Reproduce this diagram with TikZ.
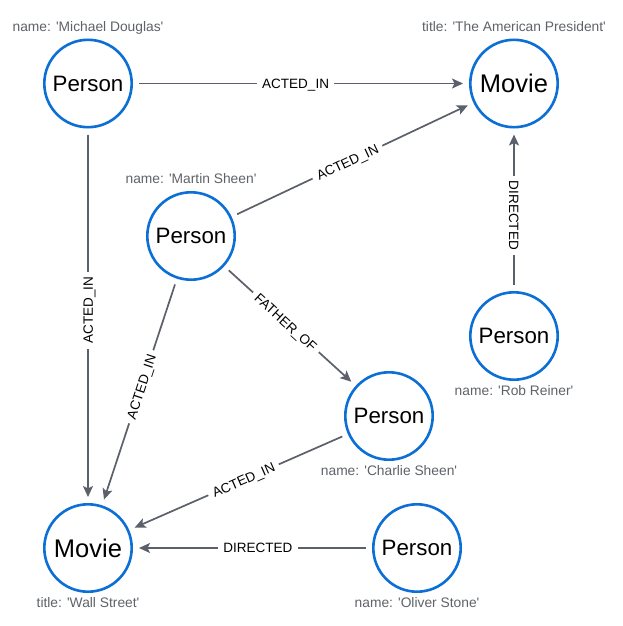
\documentclass[tikz,border=0pt]{standalone}
\usepackage{fontspec}
\setmainfont{Liberation Sans}
\usetikzlibrary{arrows.meta}
\definecolor{nodeblue}{HTML}{0B6FD6}
\definecolor{edgegray}{HTML}{5B606B}
\definecolor{proptext}{HTML}{5F6368}
\newcommand{\q}{\textquotesingle}
\begin{document}
\begin{tikzpicture}[x=1pt,y=-1pt,
  pnode/.style={circle, draw=nodeblue, line width=2.6pt, fill=white, minimum size=87.4pt, inner sep=0pt, font=\fontsize{22.3}{26}\selectfont},
  mnode/.style={pnode, font=\fontsize{25.5}{30}\selectfont},
  prop/.style={text=proptext, font=\fontsize{13.8}{16}\selectfont, anchor=base, inner sep=0pt},
  edge/.style={draw=edgegray, line width=1.7pt, shorten <=6pt, shorten >=6pt, -{Stealth[length=11pt,width=10pt,inset=2.5pt]}},
  elabel/.style={fill=white, text=black, font=\fontsize{13.5}{16}\selectfont, text height=9.7pt, text depth=0pt, inner xsep=5pt, inner ysep=2pt, anchor=center}]
\useasboundingbox[fill=white] (0,0) rectangle (622,626);

\node[pnode] (md) at (88,83.5) {Person};
\node[mnode] (ap) at (514,83.5) {Movie};
\node[pnode] (ms) at (191,236) {Person};
\node[pnode] (rr) at (514,336) {Person};
\node[pnode] (cs) at (389,416) {Person};
\node[mnode] (ws) at (88,548) {Movie};
\node[pnode] (os) at (417,548) {Person};

\node[prop] (mdl) at (88,32) {name: \q Michael Douglas\q};
\node[prop] (apl) at (514,32) {title: \q The American President\q};
\node[prop] (msl) at (191,183.3) {name: \q Martin Sheen\q};
\node[prop] (rrl) at (514,395.7) {name: \q Rob Reiner\q};
\node[prop] (csl) at (389,475.7) {name: \q Charlie Sheen\q};
\node[prop] (wsl) at (88,607.7) {title: \q Wall Street\q};
\node[prop] (osl) at (417,607.7) {name: \q Oliver Stone\q};

\draw[edge] (md) -- node[elabel, pos=0.484] {ACTED\_IN} (ap);
\draw[edge] (ms) -- node[elabel, pos=0.479, rotate=25.3] {ACTED\_IN} (ap);
\draw[edge] (rr) -- node[elabel, pos=0.466, rotate=-90] {DIRECTED} (ap);
\draw[edge] (md) -- node[elabel, pos=0.485, rotate=90] {ACTED\_IN} (ws);
\draw[edge] (ms) -- node[elabel, pos=0.477, rotate=71.7] {ACTED\_IN} (ws);
\draw[edge] (ms) -- node[elabel, pos=0.469, rotate=-42.3] {FATHER\_OF} (cs);
\draw[edge] (cs) -- node[elabel, pos=0.477, rotate=23.7] {ACTED\_IN} (ws);
\draw[edge] (os) -- node[elabel, pos=0.477] {DIRECTED} (ws);
\end{tikzpicture}
\end{document}
